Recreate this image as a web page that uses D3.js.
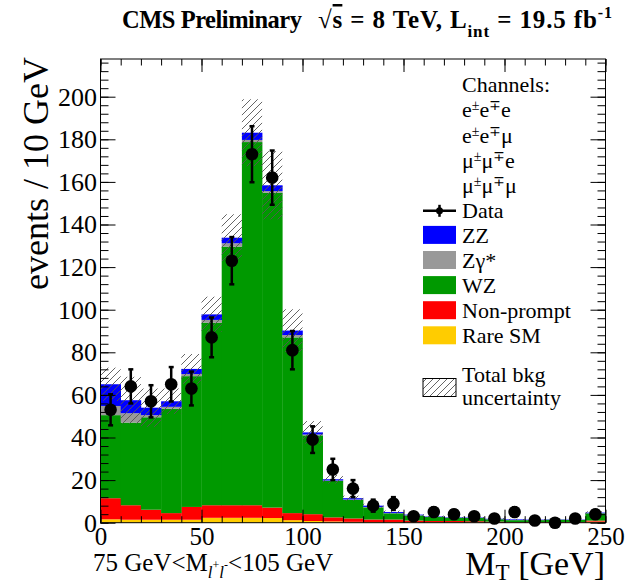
<!DOCTYPE html>
<html>
<head>
<meta charset="utf-8">
<script src="https://cdn.jsdelivr.net/npm/d3@7"></script>
<style>
  html, body { margin: 0; padding: 0; background: #fff; }
  svg { display: block; }
  text { font-family: "Liberation Serif", "DejaVu Serif", serif; fill: #000; }
</style>
</head>
<body>
<div id="chart"></div>
<script>
// ---------------- data (events / 10 GeV) ----------------
const binLow = [0,10,20,30,40,50,60,70,80,90,100,110,120,130,140,150,160,170,180,190,200,210,220,230,240];
const binWidth = 10;
const rareSM    = [1.6,1.4,1.4,1.4,1.4,2.3,2.3,2.3,2.2,1.2,0.8,0.6,0.4,0.3,0.3,0.2,0.2,0.2,0.2,0.1,0.1,0.1,0.1,0.1,0.5];
const nonPrompt = [9.9,6.8,4.7,3.1,6.0,5.9,5.9,5.9,4.9,3.3,3.2,1.9,1.6,1.2,1.2,0.8,0.6,0.6,0.5,0.4,0.2,0.2,0.2,0.2,0.5];
const wz        = [39.0,38.8,43.4,49.0,61.4,85.7,121.4,170.5,147.8,82.5,37.0,17.1,8.7,5.7,2.9,2.4,1.9,1.5,1.5,1.1,0.9,0.9,1.1,1.0,3.4];
const zgamma    = [4.3,4.4,1.0,0.9,1.0,1.3,1.6,1.0,0.8,1.1,0.4,0.2,0.2,0.2,0.1,0.1,0.05,0.05,0.05,0.05,0.05,0.05,0.05,0.05,0.05];
const zz        = [10.2,6.1,3.5,2.6,2.4,2.6,2.6,3.4,2.7,2.1,1.0,0.6,0.6,0.6,0.5,0.3,0.2,0.2,0.2,0.2,0.3,0.2,0.15,0.15,0.3];
const bkgUnc    = [7.8,11,9,6,7,8.3,11,15.7,16,10,5.3,2,1.2,0.9,0.7,0.5,0.4,0.3,0.3,0.3,0.3,0.3,0.3,0.3,0.6];
const dataCounts = [53,64,57,65,63,87,123,173,162,81,39,25,16,8,9,3,5,4,3,2,5,1,0,2,4];

const xTickLabels = [0,50,100,150,200,250];
const yTickLabels = [0,20,40,60,80,100,120,140,160,180,200];

const seriesNames  = ["Rare SM","Non-prompt","WZ","Zγ*","ZZ"];
const seriesValues = [rareSM, nonPrompt, wz, zgamma, zz];
const seriesColors = ["#ffcc00","#ff0000","#009900","#999999","#0000ff"];

(function () {
// ---------------- layout ----------------
const W = 636, H = 584;
const pL = 100.5, pR = 605.5, pT = 59, pB = 522.7;
const svg = d3.select("#chart").append("svg").attr("width", W).attr("height", H);

const x = d3.scaleLinear().domain([0, 250]).range([pL, pR]);
const y = d3.scaleLinear().domain([0, 217.7]).range([pB, pT]);

const defs = svg.append("defs");
const pat = defs.append("pattern").attr("id","hatch").attr("patternUnits","userSpaceOnUse")
  .attr("width",7).attr("height",7);
pat.append("path").attr("d","M-1,8 L8,-1 M-2,2 L2,-2 M5,9 L9,5")
  .attr("stroke","#555").attr("stroke-width",0.9).attr("fill","none");

// ---------------- stacked histogram ----------------
const rows = binLow.map((b, i) => {
  const r = { bin: b };
  seriesNames.forEach((n, k) => r[n] = seriesValues[k][i]);
  return r;
});
const stacked = d3.stack().keys(seriesNames)(rows);

const gStack = svg.append("g");
stacked.forEach((layer, k) => {
  gStack.selectAll(null).data(layer).enter().append("rect")
    .attr("x", d => x(d.data.bin))
    .attr("width", d => x(d.data.bin + binWidth) - x(d.data.bin) + 0.3)
    .attr("y", d => y(d[1]))
    .attr("height", d => Math.max(0, y(d[0]) - y(d[1])))
    .attr("fill", seriesColors[k]);
});

// uncertainty band
const totals = binLow.map((b, i) => seriesValues.reduce((s, arr) => s + arr[i], 0));
svg.append("g").selectAll("rect").data(binLow).enter().append("rect")
  .attr("x", d => x(d))
  .attr("width", d => x(d + binWidth) - x(d))
  .attr("y", (d, i) => y(totals[i] + bkgUnc[i]))
  .attr("height", (d, i) => y(Math.max(0, totals[i] - bkgUnc[i])) - y(totals[i] + bkgUnc[i]))
  .attr("fill", "url(#hatch)");

// ---------------- axes ----------------
function styleAxis(g) {
  g.select(".domain").remove();
  g.selectAll("line").attr("stroke", "#000").attr("stroke-width", 1);
  g.selectAll("text").attr("font-family", "Liberation Serif").attr("fill", "#000");
}
const xMinor = d3.range(0, 251, 10);
const yMinor = d3.range(0, 217, 4);

svg.append("g").attr("transform", `translate(0,${pB})`)
  .call(d3.axisBottom(x).tickValues(xMinor).tickSize(-6.5).tickFormat(""))
  .call(styleAxis);
svg.append("g").attr("transform", `translate(0,${pB})`)
  .call(d3.axisBottom(x).tickValues(xTickLabels).tickSize(-13).tickPadding(5).tickFormat(d3.format("d")))
  .call(styleAxis)
  .selectAll("text").attr("font-size", 25);
svg.append("g").attr("transform", `translate(0,${pT})`)
  .call(d3.axisTop(x).tickValues(xMinor).tickSize(-6.5).tickFormat(""))
  .call(styleAxis);
svg.append("g").attr("transform", `translate(0,${pT})`)
  .call(d3.axisTop(x).tickValues(xTickLabels).tickSize(-13).tickFormat(""))
  .call(styleAxis);

svg.append("g").attr("transform", `translate(${pL},0)`)
  .call(d3.axisLeft(y).tickValues(yMinor).tickSize(-8).tickFormat(""))
  .call(styleAxis);
svg.append("g").attr("transform", `translate(${pL},0)`)
  .call(d3.axisLeft(y).tickValues(yTickLabels).tickSize(-15).tickPadding(3.5).tickFormat(d3.format("d")))
  .call(styleAxis)
  .selectAll("text").attr("font-size", 26);
svg.append("g").attr("transform", `translate(${pR},0)`)
  .call(d3.axisRight(y).tickValues(yMinor).tickSize(-8).tickFormat(""))
  .call(styleAxis);
svg.append("g").attr("transform", `translate(${pR},0)`)
  .call(d3.axisRight(y).tickValues(yTickLabels).tickSize(-15).tickFormat(""))
  .call(styleAxis);

svg.append("rect").attr("x", pL).attr("y", pT)
  .attr("width", pR - pL).attr("height", pB - pT)
  .attr("fill", "none").attr("stroke", "#000").attr("stroke-width", 1);

// ---------------- data points ----------------
const gData = svg.append("g");
binLow.forEach((b, i) => {
  const n = dataCounts[i];
  const cx = x(b + binWidth / 2);
  const e = Math.sqrt(n);
  if (e > 0) {
    gData.append("line").attr("x1", cx).attr("x2", cx)
      .attr("y1", y(n + e)).attr("y2", y(n - e))
      .attr("stroke", "#000").attr("stroke-width", 2.5);
    [n + e, n - e].forEach(v => gData.append("line")
      .attr("x1", cx - 2.5).attr("x2", cx + 2.5).attr("y1", y(v)).attr("y2", y(v))
      .attr("stroke", "#000").attr("stroke-width", 2.5));
  }
  gData.append("circle").attr("cx", cx).attr("cy", y(n)).attr("r", 6.3).attr("fill", "#000");
});

// ---------------- legend ----------------
const lg = svg.append("g").attr("font-size", 22);
const tx = 462, bx = 423, bw = 33;
const rowY = i => 92.3 + 25.1 * i;

lg.append("text").attr("x", tx).attr("y", rowY(0)).text("Channels:");
const channels = [["e","±","e","∓","e"],["e","±","e","∓","μ"],["μ","±","μ","∓","e"],["μ","±","μ","∓","μ"]];
channels.forEach((c, i) => {
  const t = lg.append("text").attr("x", tx).attr("y", rowY(i + 1));
  t.append("tspan").text(c[0]);
  t.append("tspan").attr("font-size", 14).attr("dy", -7).text(c[1]);
  t.append("tspan").attr("dy", 7).text(c[2]);
  t.append("tspan").attr("font-size", 14).attr("dy", -7).text(c[3]);
  t.append("tspan").attr("dy", 7).text(c[4]);
});

// Data entry
const dyD = rowY(5) - 7;
lg.append("line").attr("x1", bx).attr("x2", bx + bw).attr("y1", dyD).attr("y2", dyD)
  .attr("stroke", "#000").attr("stroke-width", 2.5);
lg.append("line").attr("x1", bx + bw / 2).attr("x2", bx + bw / 2).attr("y1", dyD - 6).attr("y2", dyD + 6)
  .attr("stroke", "#000").attr("stroke-width", 2.5);
lg.append("circle").attr("cx", bx + bw / 2).attr("cy", dyD).attr("r", 3.5).attr("fill", "#000");
lg.append("text").attr("x", tx).attr("y", rowY(5)).text("Data");

const legendOrder = ["ZZ","Zγ*","WZ","Non-prompt","Rare SM"];
legendOrder.forEach((name, j) => {
  const k = seriesNames.indexOf(name);
  const yy = rowY(6 + j);
  lg.append("rect").attr("x", bx).attr("y", yy - 17).attr("width", bw).attr("height", 18)
    .attr("fill", seriesColors[k]);
  lg.append("text").attr("x", tx).attr("y", yy).text(name);
});

lg.append("rect").attr("x", bx).attr("y", 378.5).attr("width", bw).attr("height", 18)
  .attr("fill", "url(#hatch)").attr("stroke", "#000").attr("stroke-width", 1);
lg.append("text").attr("x", tx).attr("y", 381.7).text("Total bkg");
lg.append("text").attr("x", tx).attr("y", 405).text("uncertainty");

// ---------------- titles ----------------
svg.append("text").attr("x", 122).attr("y", 28)
  .attr("font-size", 24.5).attr("font-weight", "bold")
  .attr("textLength", 180).attr("lengthAdjust", "spacing")
  .text("CMS Preliminary");
const title = svg.append("text").attr("x", 318).attr("y", 28)
  .attr("font-size", 25).attr("font-weight", "bold")
  .attr("textLength", 294).attr("lengthAdjust", "spacing");
title.append("tspan").text("√");
title.append("tspan").attr("text-decoration", "overline").text("s");
title.append("tspan").text(" = 8 TeV, L");
title.append("tspan").attr("font-size", 17).attr("dy", 9).text("int");
title.append("tspan").attr("dy", -9).text(" = 19.5 fb");
title.append("tspan").attr("font-size", 16).attr("dy", -10).text("-1");

svg.append("text")
  .attr("transform", "translate(48,57) rotate(-90)")
  .attr("text-anchor", "end").attr("font-size", 36)
  .text("events / 10 GeV");

const xt = svg.append("text").attr("x", 605).attr("y", 575).attr("text-anchor", "end").attr("font-size", 34);
xt.append("tspan").text("M");
xt.append("tspan").attr("font-size", 23).attr("dy", 5).text("T");
xt.append("tspan").attr("dy", -5).text(" [GeV]");

const sel = svg.append("text").attr("x", 93).attr("y", 571).attr("font-size", 25);
sel.append("tspan").text("75 GeV<M");
sel.append("tspan").attr("font-size", 17).attr("dy", 7).attr("font-style", "italic").text("l");
sel.append("tspan").attr("font-size", 12).attr("dy", -9).text("+");
sel.append("tspan").attr("font-size", 17).attr("dy", 9).attr("font-style", "italic").text("l");
sel.append("tspan").attr("font-size", 12).attr("dy", -9).text("-");
sel.append("tspan").attr("dy", 2).text("<105 GeV");
})();
</script>
</body>
</html>
